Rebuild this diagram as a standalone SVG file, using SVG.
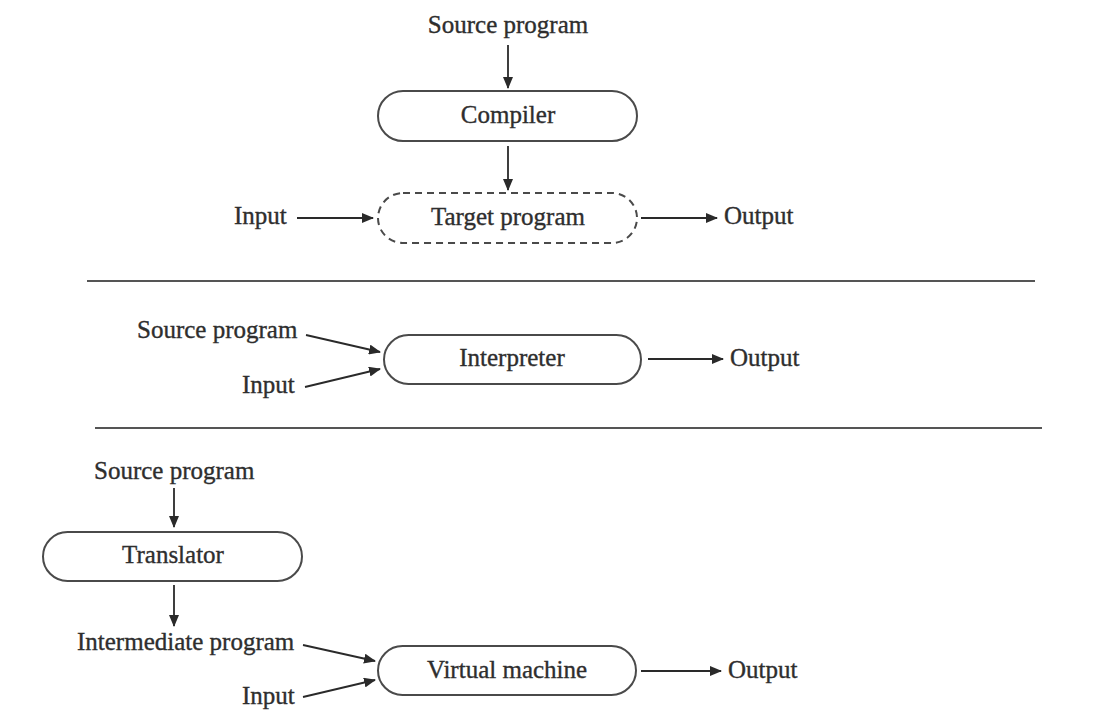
<svg xmlns="http://www.w3.org/2000/svg" width="1094" height="726" viewBox="0 0 1094 726">
<defs>
<marker id="ah" markerWidth="12" markerHeight="10" refX="11" refY="5" orient="auto" markerUnits="userSpaceOnUse">
<path d="M0,0 L12,5 L0,10 Z" fill="#2a2a2a"/>
</marker>
<style>
text{font-family:"Liberation Serif","Times New Roman",serif;font-size:25px;fill:#2e2e2e;stroke:#2e2e2e;stroke-width:0.35}
.c{text-anchor:middle}
.box{fill:#fff;stroke:#4a4a4a;stroke-width:2}
.dash{stroke-dasharray:7 5}
.ln{stroke:#2a2a2a;stroke-width:1.8;fill:none}
.sep{stroke:#555;stroke-width:2}
</style>
</defs>
<rect width="1094" height="726" fill="#fff"/>
<g id="connectors">
<line class="ln" x1="508" y1="45" x2="508" y2="88" marker-end="url(#ah)"/>
<line class="ln" x1="508" y1="146" x2="508" y2="190" marker-end="url(#ah)"/>
<line class="ln" x1="297" y1="218" x2="373" y2="218" marker-end="url(#ah)"/>
<line class="ln" x1="641" y1="218" x2="717" y2="218" marker-end="url(#ah)"/>
<line class="ln" x1="306" y1="335" x2="380" y2="352" marker-end="url(#ah)"/>
<line class="ln" x1="305" y1="387" x2="380" y2="369" marker-end="url(#ah)"/>
<line class="ln" x1="648" y1="359" x2="723" y2="359" marker-end="url(#ah)"/>
<line class="ln" x1="174" y1="488" x2="174" y2="527" marker-end="url(#ah)"/>
<line class="ln" x1="174" y1="585" x2="174" y2="626" marker-end="url(#ah)"/>
<line class="ln" x1="303" y1="645" x2="375" y2="661" marker-end="url(#ah)"/>
<line class="ln" x1="303" y1="697" x2="375" y2="680" marker-end="url(#ah)"/>
<line class="ln" x1="641" y1="671" x2="721" y2="671" marker-end="url(#ah)"/>
</g>
<g id="separators">
<line class="sep" x1="87" y1="281" x2="1035" y2="281"/>
<line class="sep" x1="95" y1="428" x2="1042" y2="428"/>
</g>
<g id="labels">
<text class="c" x="508" y="33">Source program</text>
<text x="234" y="224">Input</text>
<text x="724" y="224">Output</text>
<text x="137" y="338">Source program</text>
<text x="242" y="393">Input</text>
<text x="730" y="366">Output</text>
<text x="94" y="479">Source program</text>
<text x="77" y="650">Intermediate program</text>
<text x="242" y="704">Input</text>
<text x="728" y="678">Output</text>
</g>
<g id="compiler">
<rect class="box" x="378" y="91" width="259" height="50" rx="25"/>
<text class="c" x="508" y="123">Compiler</text>
</g>
<g id="target-program">
<rect class="box dash" x="378" y="193" width="259" height="50" rx="25"/>
<text class="c" x="508" y="225">Target program</text>
</g>
<g id="interpreter">
<rect class="box" x="384" y="335" width="257" height="49" rx="24.5"/>
<text class="c" x="512" y="366">Interpreter</text>
</g>
<g id="translator">
<rect class="box" x="43" y="532" width="259" height="49" rx="24.5"/>
<text class="c" x="173" y="563">Translator</text>
</g>
<g id="virtual-machine">
<rect class="box" x="378" y="646" width="258" height="49" rx="24.5"/>
<text class="c" x="507" y="678">Virtual machine</text>
</g>
</svg>
